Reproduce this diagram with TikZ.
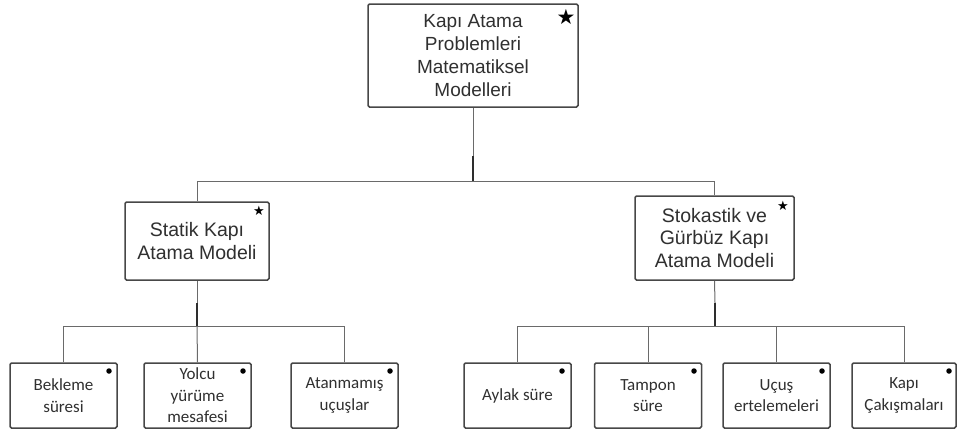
\documentclass[tikz,border=0pt]{standalone}
\usepackage{fontspec}
\setmainfont{Liberation Sans}
\newfontfamily\calib{Carlito}
\newfontfamily\symb{DejaVu Sans}
\definecolor{boxline}{HTML}{474747}
\definecolor{txt}{HTML}{303030}
\definecolor{wire}{HTML}{6A6A6A}
\definecolor{wiredark}{HTML}{2E2E2E}
\begin{document}
\begin{tikzpicture}[x=1pt,y=-1pt,
  box/.style={draw=boxline, line width=1.5pt, rounded corners=1.5pt, fill=white,
              inner sep=0pt, align=center, text=txt},
  toplevel/.style={box, minimum width=210pt, minimum height=103pt,
                   font=\fontsize{19}{23}\selectfont},
  midlevel/.style={box, font=\fontsize{19.5}{22.5}\selectfont},
  leaf/.style={box, minimum width=107pt, minimum height=65pt,
               font=\calib\fontsize{17}{21.5}\selectfont},
  wire/.style={draw=wire, line width=1pt},
  trunk/.style={draw=wiredark, line width=1.3pt},
  bigstar/.style={inner sep=0pt, text=black, font=\symb\fontsize{21}{21}\selectfont},
  smallstar/.style={inner sep=0pt, text=black, font=\symb\fontsize{13}{13}\selectfont},
  dot/.style={circle, fill=black, inner sep=0pt, minimum size=5.5pt}
]
\useasboundingbox (0,0) rectangle (957,432);

% root
\node[toplevel] (root) at (473,55.5) {Kapı Atama\\Problemleri\\Matematiksel\\Modelleri};
\node[bigstar] (rootstar) at (566,17) {★};

% second level
\node[midlevel, minimum width=144pt, minimum height=78pt] (static) at (197,241)
  {Statik Kapı\\Atama Modeli};
\node[smallstar] (staticstar) at (259,211) {★};
\node[midlevel, minimum width=159pt, minimum height=84pt] (stoch) at (714.5,238)
  {Stokastik ve\\Gürbüz Kapı\\Atama Modeli};
\node[smallstar] (stochstar) at (783,206) {★};

% leaves of the static model
\node[leaf] (wait) at (63.5,395.5) {Bekleme\\süresi};
\node[dot] (waitdot) at (109,371) {};
\node[leaf] (walk) at (197.5,395.5) {Yolcu\\yürüme\\mesafesi};
\node[dot] (walkdot) at (243,371) {};
\node[leaf] (unassigned) at (344.5,395.5) {Atanmamış\\uçuşlar};
\node[dot] (unassigneddot) at (390,371) {};

% leaves of the stochastic model
\node[leaf] (idle) at (517.5,395.5) {Aylak süre};
\node[dot] (idledot) at (562,371) {};
\node[leaf] (buffer) at (648,395.5) {Tampon\\süre};
\node[dot] (bufferdot) at (694,371) {};
\node[leaf] (delay) at (776.5,395.5) {Uçuş\\ertelemeleri};
\node[dot] (delaydot) at (822,371) {};
\node[leaf, minimum width=104pt] (conflict) at (904,395.5) {Kapı\\Çakışmaları};
\node[dot] (conflictdot) at (949,371) {};

% junction points
\coordinate (j0) at (473,181);
\coordinate (k0) at (473,156);
\coordinate (j1) at (197,326);
\coordinate (k1) at (197,303);
\coordinate (j2) at (715,326);
\coordinate (k2) at (715,303);

% root to second level
\draw[wire] (root.south) -- (k0);
\draw[trunk] (k0) -- (j0);
\draw[wire] (j0) -| (static.north);
\draw[wire] (j0) -| (stoch.north);

% static model to its leaves
\draw[wire] (static.south) -- (k1);
\draw[trunk] (k1) -- (j1);
\draw[wire] (j1) -| (wait.north);
\draw[wire] (j1) -- (walk.north);
\draw[wire] (j1) -| (unassigned.north);

% stochastic model to its leaves
\draw[wire] (stoch.south) -- (k2);
\draw[trunk] (k2) -- (j2);
\draw[wire] (j2) -| (idle.north);
\draw[wire] (j2) -| (buffer.north);
\draw[wire] (j2) -| (delay.north);
\draw[wire] (j2) -| (conflict.north);
\end{tikzpicture}
\end{document}
